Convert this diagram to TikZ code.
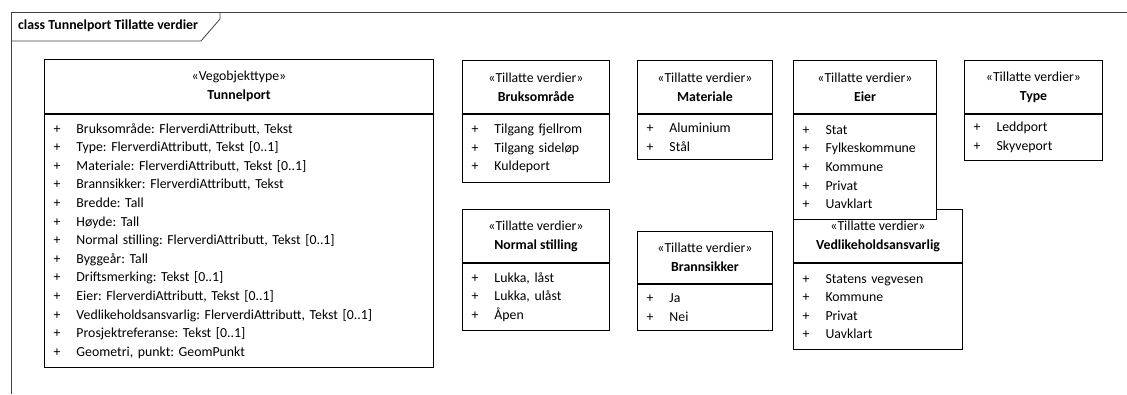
\documentclass[tikz,border=0pt]{standalone}
\usepackage{fontspec}
\setmainfont{Carlito}
\usetikzlibrary{positioning}
\frenchspacing

\tikzset{
    hdr/.style={draw, fill=white, line width=1pt, inner sep=0pt, align=center,
        anchor=north west, font=\fontsize{13.8}{19}\selectfont},
    bdy/.style={draw, fill=white, line width=1pt, inner xsep=9pt, inner ysep=0pt,
        align=left, anchor=north west, font=\fontsize{13.8}{18.6}\selectfont},
}
\newcommand{\itm}{\makebox[23pt][l]{+}}

\begin{document}
\begin{tikzpicture}[x=1pt, y=-1pt]

    \useasboundingbox (0,0) rectangle (1127,394);

    % --- Frame ---
    \coordinate (FB) at (11,394);   % Frame, bottom-left
    \coordinate (FT) at (11,12);    % Frame, top-left
    \coordinate (FR) at (1127,12);  % Frame, top-right
    \draw[line width=0.8pt, black!75] (FB) -- (FT) -- (FR);
    \draw[line width=0.8pt, black!75] (11,41) -- (201,41) -- (220,19) -- (220,12);
    \node[anchor=west, inner sep=0pt, font=\fontsize{13.8}{16}\selectfont\bfseries]
        (title) at (18,26) {class Tunnelport Tillatte verdier};

    % --- Tunnelport ---
    \node[hdr, minimum width=389, minimum height=54] (tp-hd) at (44,59)
        {«Vegobjekttype»\\\textbf{Tunnelport}};
    \node[bdy, minimum width=389, minimum height=253, text width=371pt] (tp-bd) at (tp-hd.south west)
        {\itm Bruksområde: FlerverdiAttributt, Tekst\\
         \itm Type: FlerverdiAttributt, Tekst [0..1]\\
         \itm Materiale: FlerverdiAttributt, Tekst [0..1]\\
         \itm Brannsikker: FlerverdiAttributt, Tekst\\
         \itm Bredde: Tall\\
         \itm Høyde: Tall\\
         \itm Normal stilling: FlerverdiAttributt, Tekst [0..1]\\
         \itm Byggeår: Tall\\
         \itm Driftsmerking: Tekst [0..1]\\
         \itm Eier: FlerverdiAttributt, Tekst [0..1]\\
         \itm Vedlikeholdsansvarlig: FlerverdiAttributt, Tekst [0..1]\\
         \itm Prosjektreferanse: Tekst [0..1]\\
         \itm Geometri, punkt: GeomPunkt};

    % --- Bruksområde ---
    \node[hdr, minimum width=147, minimum height=53] (bo-hd) at (462,60)
        {«Tillatte verdier»\\\textbf{Bruksområde}};
    \node[bdy, minimum width=147, minimum height=68, text width=129pt] (bo-bd) at (bo-hd.south west)
        {\itm Tilgang fjellrom\\ \itm Tilgang sideløp\\ \itm Kuldeport};

    % --- Materiale ---
    \node[hdr, minimum width=135, minimum height=53] (ma-hd) at (637,60)
        {«Tillatte verdier»\\\textbf{Materiale}};
    \node[bdy, minimum width=135, minimum height=45, text width=117pt] (ma-bd) at (ma-hd.south west)
        {\itm Aluminium\\ \itm Stål};

    % --- Normal stilling ---
    \node[hdr, minimum width=147, minimum height=53] (ns-hd) at (462,209)
        {«Tillatte verdier»\\\textbf{Normal stilling}};
    \node[bdy, minimum width=147, minimum height=67, text width=129pt] (ns-bd) at (ns-hd.south west)
        {\itm Lukka, låst\\ \itm Lukka, ulåst\\ \itm Åpen};

    % --- Brannsikker ---
    \node[hdr, minimum width=135, minimum height=52] (bs-hd) at (637,231)
        {«Tillatte verdier»\\\textbf{Brannsikker}};
    \node[bdy, minimum width=135, minimum height=46, text width=117pt] (bs-bd) at (bs-hd.south west)
        {\itm Ja\\ \itm Nei};

    % --- Vedlikeholdsansvarlig (drawn before Eier, which lies over it) ---
    \node[hdr, minimum width=169, minimum height=53] (va-hd) at (793,209)
        {«Tillatte verdier»\\\textbf{Vedlikeholdsansvarlig}};
    \node[bdy, minimum width=169, minimum height=86, text width=151pt] (va-bd) at (va-hd.south west)
        {\itm Statens vegvesen\\ \itm Kommune\\ \itm Privat\\ \itm Uavklart};

    % --- Eier ---
    \node[hdr, minimum width=143, minimum height=53] (ei-hd) at (793,60)
        {«Tillatte verdier»\\\textbf{Eier}};
    \node[bdy, minimum width=143, minimum height=105, text width=125pt] (ei-bd) at (ei-hd.south west)
        {\itm Stat\\ \itm Fylkeskommune\\ \itm Kommune\\ \itm Privat\\ \itm Uavklart};

    % --- Type ---
    \node[hdr, minimum width=138, minimum height=53] (ty-hd) at (964,60)
        {«Tillatte verdier»\\\textbf{Type}};
    \node[bdy, minimum width=138, minimum height=46, text width=120pt] (ty-bd) at (ty-hd.south west)
        {\itm Leddport\\ \itm Skyveport};

\end{tikzpicture}
\end{document}
